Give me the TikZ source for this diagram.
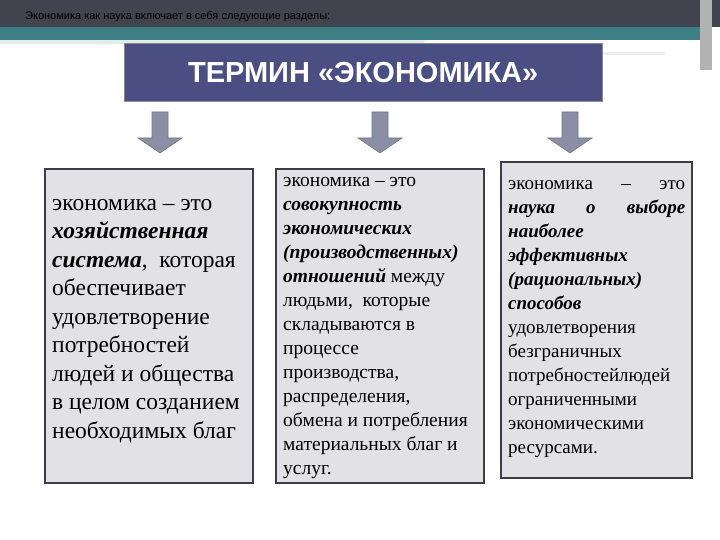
\documentclass[tikz,border=0pt]{standalone}
\usepackage{fontspec}
\setmainfont{Liberation Serif}
\newfontfamily\hsans{Liberation Sans}
\definecolor{band}{HTML}{41444F}
\definecolor{teal}{HTML}{3E7F86}
\definecolor{titlebg}{HTML}{4B4E83}
\definecolor{boxbg}{HTML}{E1E1E6}
\definecolor{boxln}{HTML}{3C3C4C}
\definecolor{arrowbg}{HTML}{8A8FA6}
\tikzset{
 tbox/.style={draw=boxln,line width=1.5pt,fill=boxbg},
 dnarrow/.style={draw=boxln!70,line width=0.6pt,fill=arrowbg},
 txt/.style={anchor=north west,align=left,inner sep=0pt}
}
\begin{document}
\begin{tikzpicture}[x=1pt,y=-1pt]
\useasboundingbox (0,0) rectangle (720,540);
\fill[white] (0,0) rectangle (720,540);
\fill[band] (0,0) rectangle (720,27);
\fill[teal] (0,27) rectangle (700,40);
\fill[white!85!teal] (0,40) rectangle (425,44);
\fill[white!85!gray] (425,52) rectangle (665,55);
\fill[gray!60] (700,0) rectangle (712,70);
\node[txt,font=\hsans\fontsize{11}{12}\selectfont,text=black] (hdr) at (25,11) {Экономика как наука включает в себя следующие разделы:};
\node[draw=boxln!60,fill=titlebg,minimum width=478pt,minimum height=58pt,anchor=north west,text=white,font=\hsans\bfseries\fontsize{29}{34}\selectfont] (title) at (124,43) {ТЕРМИН «ЭКОНОМИКА»};
\foreach \n/\cx in {a1/160,a2/380,a3/570}{
 \draw[dnarrow] (\cx-8,112) -- (\cx+8,112) -- (\cx+8,138) -- (\cx+22,138) -- (\cx,153) -- (\cx-22,138) -- (\cx-8,138) -- cycle;
 \coordinate (\n) at (\cx,112);
}
\draw[tbox] (45,169) rectangle (253,483);
\node[coordinate] (b1) at (149,169) {};
\draw[tbox] (276,169) rectangle (484,483);
\node[coordinate] (b2) at (380,169) {};
\draw[tbox] (501,162) rectangle (692,478);
\node[coordinate] (b3) at (596,162) {};
\node[txt,font=\fontsize{23.5}{28.5}\selectfont] (t1) at (52,199) {экономика – это\\\textbf{\textit{хозяйственная}}\\\textbf{\textit{система}},\ \ которая\\обеспечивает\\удовлетворение\\потребностей\\людей и общества\\в целом созданием\\необходимых благ};
\node[txt,font=\fontsize{19.5}{24}\selectfont] (t2) at (283,177) {экономика – это\\\textbf{\textit{совокупность}}\\\textbf{\textit{экономических}}\\\textbf{\textit{(производственных)}}\\\textbf{\textit{отношений}} между\\людьми,\ \ которые\\складываются в\\процессе\\производства,\\распределения,\\обмена и потребления\\материальных благ и\\услуг.};
\node[txt,font=\fontsize{19}{24}\selectfont] (t3) at (508,180) {\makebox[177pt][s]{экономика\hfill –\hfill это}\\\makebox[177pt][s]{\textbf{\textit{наука}}\hfill\textbf{\textit{о}}\hfill\textbf{\textit{выборе}}}\\\textbf{\textit{наиболее}}\\\textbf{\textit{эффективных}}\\\textbf{\textit{(рациональных)}}\\\textbf{\textit{способов}}\\удовлетворения\\безграничных\\потребностейлюдей\\ограниченными\\экономическими\\ресурсами.};
\end{tikzpicture}
\end{document}
